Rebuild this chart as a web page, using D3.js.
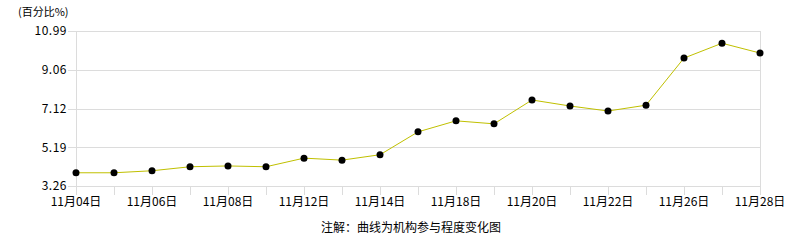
<!DOCTYPE html>
<html>
<head>
<meta charset="utf-8">
<script src="https://cdn.jsdelivr.net/npm/d3@7"></script>
<style>
  html, body { margin: 0; padding: 0; background: #fff; }
  svg text { font-family: "Noto Sans CJK SC", "DejaVu Sans", sans-serif; }
</style>
</head>
<body>
<div id="chart"></div>
<script>
// 日期（交易日）
const dates = ["11月04日", "11月05日", "11月06日", "11月07日", "11月08日",
    "11月11日", "11月12日", "11月13日", "11月14日", "11月15日",
    "11月18日", "11月19日", "11月20日", "11月21日", "11月22日",
    "11月25日", "11月26日", "11月27日", "11月28日"];
// 机构参与程度（%）
const values = [3.92, 3.92, 4.02, 4.22, 4.26, 4.22, 4.65, 4.55, 4.82, 5.96,
    6.51, 6.36, 7.55, 7.25, 7.00, 7.29, 9.64, 10.38, 9.89];
const yTicks = [3.26, 5.19, 7.12, 9.06, 10.99];

const width = 786, height = 240;
const margin = { left: 76, right: 26, top: 31, bottom: 54 };

const svg = d3.select("#chart").append("svg")
    .attr("width", width)
    .attr("height", height);

const x = d3.scalePoint()
    .domain(dates)
    .range([margin.left, width - margin.right]);

const y = d3.scaleLinear()
    .domain([3.26, 10.99])
    .range([height - margin.bottom, margin.top]);

// 网格线
svg.selectAll("line.grid")
    .data(yTicks)
    .enter()
    .append("line")
    .attr("class", "grid")
    .attr("x1", margin.left - 8)
    .attr("x2", width - margin.right)
    .attr("y1", d => Math.round(y(d)) + 0.5)
    .attr("y2", d => Math.round(y(d)) + 0.5)
    .attr("stroke", "#dcdcdc");

// Y 轴标签
svg.selectAll("text.ylab")
    .data(yTicks)
    .enter()
    .append("text")
    .attr("class", "ylab")
    .attr("x", margin.left - 9)
    .attr("y", d => y(d))
    .attr("dy", "0.35em")
    .attr("text-anchor", "end")
    .attr("font-size", "12px")
    .attr("letter-spacing", "0.5px")
    .attr("fill", "#000")
    .text(d => d.toFixed(2));

// 左右竖线
[margin.left, width - margin.right].forEach(px => {
    svg.append("line")
        .attr("x1", px + 0.5).attr("x2", px + 0.5)
        .attr("y1", y(10.99)).attr("y2", y(3.26) + 9)
        .attr("stroke", "#dcdcdc");
});

// X 轴刻度
svg.selectAll("line.xtick")
    .data(dates)
    .enter()
    .append("line")
    .attr("class", "xtick")
    .attr("x1", d => Math.round(x(d)) + 0.5)
    .attr("x2", d => Math.round(x(d)) + 0.5)
    .attr("y1", y(3.26))
    .attr("y2", y(3.26) + 9)
    .attr("stroke", "#dcdcdc");

svg.selectAll("text.xlab")
    .data(dates.filter((d, i) => i % 2 === 0))
    .enter()
    .append("text")
    .attr("class", "xlab")
    .attr("x", d => x(d))
    .attr("y", 202)
    .attr("dy", "0.35em")
    .attr("text-anchor", "middle")
    .attr("font-size", "12px")
    .attr("fill", "#000")
    .text(d => d);

// 折线
const line = d3.line()
    .x((d, i) => x(dates[i]))
    .y(d => y(d));

svg.append("path")
    .datum(values)
    .attr("d", line)
    .attr("fill", "none")
    .attr("stroke", "#c0c000")
    .attr("stroke-width", 1);

svg.selectAll("circle.pt")
    .data(values)
    .enter()
    .append("circle")
    .attr("class", "pt")
    .attr("cx", (d, i) => x(dates[i]))
    .attr("cy", d => y(d))
    .attr("r", 3.5)
    .attr("fill", "#000");

// 单位
svg.append("text")
    .attr("x", 18)
    .attr("y", 12)
    .attr("dy", "0.35em")
    .attr("font-size", "11px")
    .attr("fill", "#000")
    .text("(百分比%)");

// 注解
svg.append("text")
    .attr("x", 411)
    .attr("y", 228)
    .attr("dy", "0.35em")
    .attr("text-anchor", "middle")
    .attr("font-size", "12px")
    .attr("fill", "#000")
    .text("注解：曲线为机构参与程度变化图");
</script>
</body>
</html>
